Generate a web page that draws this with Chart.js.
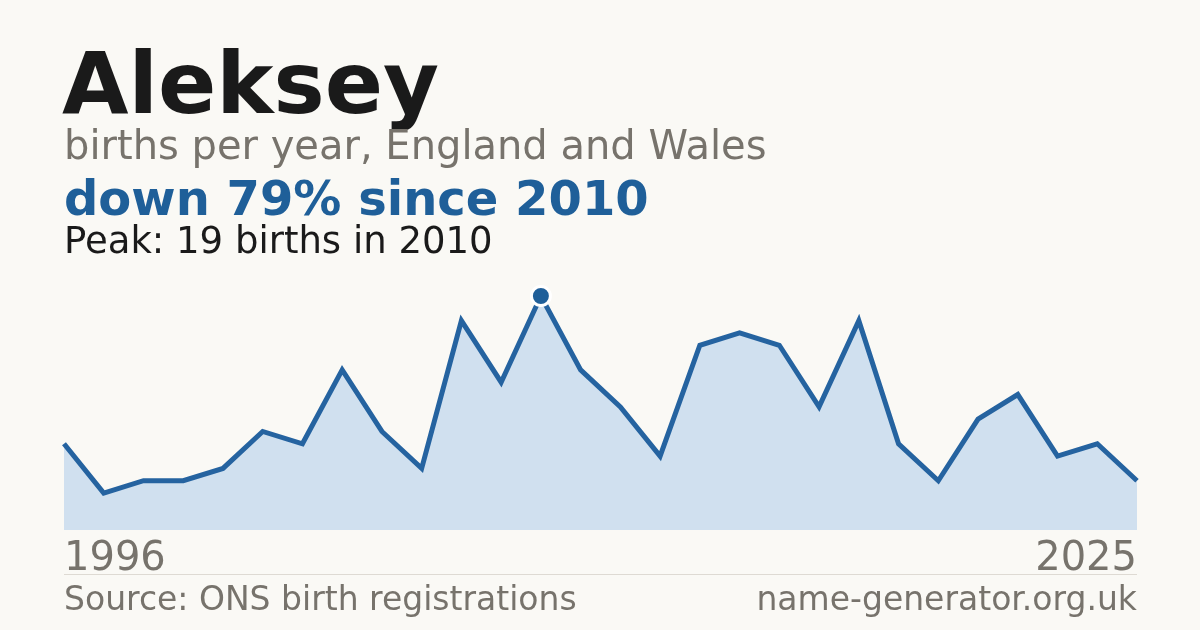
<!DOCTYPE html>
<html>
<head>
<meta charset="utf-8">
<script src="https://cdn.jsdelivr.net/npm/chart.js@4"></script>
<style>
  html, body { margin:0; padding:0; background:#faf9f5; }
  body { width:1200px; height:630px; position:relative; overflow:hidden; font-family:"DejaVu Sans", sans-serif; }
  .t { position:absolute; white-space:nowrap; line-height:normal; }
  #chartWrap { position:absolute; left:0; top:0; width:1200px; height:630px; }
  #sep { position:absolute; left:64px; top:574px; width:1073px; height:1px; background:#dedad3; }
</style>
</head>
<body>
<div id="chartWrap"><canvas id="c" width="1200" height="630"></canvas></div>
<div class="t" style="left:62px; top:33px; font-size:86px; font-weight:bold; color:#1a1a1a;">Aleksey</div>
<div class="t" style="left:64px; top:122px; font-size:40px; color:#77736c;">births per year, England and Wales</div>
<div class="t" style="left:64px; top:170px; font-size:48px; font-weight:bold; color:#1f5f99;">down 79% since 2010</div>
<div class="t" style="left:64px; top:219px; font-size:37px; color:#1a1a1a;">Peak: 19 births in 2010</div>
<div class="t" style="left:64px; top:533px; font-size:40px; color:#77736c;">1996</div>
<div class="t" style="right:63px; top:533px; font-size:40px; color:#77736c;">2025</div>
<div id="sep"></div>
<div class="t" style="left:64px; top:579px; font-size:33px; color:#77736c;">Source: ONS birth registrations</div>
<div class="t" style="right:63px; top:579px; font-size:33px; color:#77736c;">name-generator.org.uk</div>
<script>
const years = [1996,1997,1998,2000,2001,2002,2003,2004,2006,2007,2008,2009,2010,2011,2012,2013,2014,2015,2016,2017,2018,2019,2020,2021,2022,2023,2024,2025];
const births = [7,3,4,4,5,8,7,13,8,5,17,12,19,13,10,6,15,16,15,10,17,7,4,9,11,6,7,4];
const peakIndex = births.indexOf(Math.max(...births));

new Chart(document.getElementById('c'), {
  type: 'line',
  data: {
    labels: years.map(String),
    datasets: [{
      data: births,
      borderColor: '#2563a0',
      borderWidth: 5,
      backgroundColor: '#d0e0ef',
      fill: 'origin',
      tension: 0,
      clip: false,
      pointRadius: births.map((v,i) => i === peakIndex ? 9.5 : 0),
      pointBackgroundColor: '#1f5f99',
      pointBorderColor: '#ffffff',
      pointBorderWidth: 3,
      pointHoverRadius: 0
    }]
  },
  options: {
    responsive: false,
    animation: false,
    events: [],
    layout: { padding: { left: 64, right: 63, top: 296, bottom: 100 } },
    plugins: { legend: { display: false }, tooltip: { enabled: false }, title: { display: false } },
    scales: {
      x: { type: 'category', display: false, offset: false, grid: { display: false } },
      y: { display: false, min: 0, max: 19, grid: { display: false } }
    }
  }
});
</script>
</body>
</html>
